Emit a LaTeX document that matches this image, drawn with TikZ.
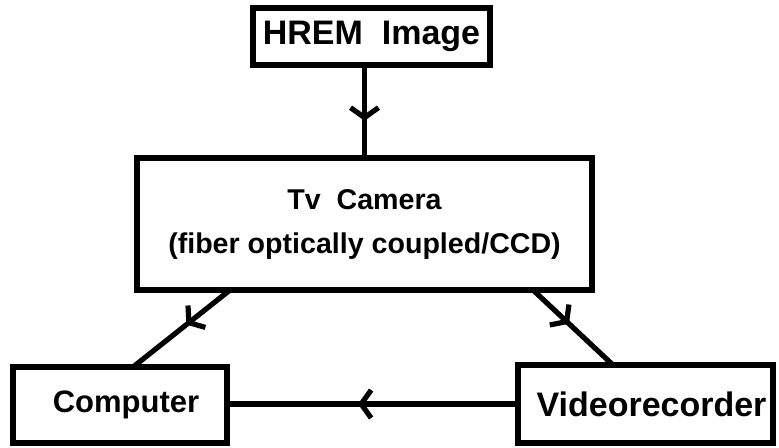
\documentclass[tikz,border=0pt]{standalone}
\usepackage{fontspec}
\setmainfont{Liberation Sans}
\usetikzlibrary{arrows.meta,decorations.markings,calc}

\tikzset{
  blockbox/.style={draw, line width=3.2pt, inner sep=0pt, outer sep=0pt, align=center, font=\bfseries},
  link/.style={line width=2.6pt},
  midarrow/.style={postaction={decorate}, decoration={markings,
    mark=at position #1 with {\arrow{Straight Barb[length=5pt,width=14pt,line width=2.6pt]}}}},
  midarrow/.default=0.5
}

\begin{document}
\begin{tikzpicture}[x=0.5pt,y=-0.5pt]
\useasboundingbox (0,0) rectangle (779,447);

%Boxes
\node[blockbox, minimum width=118.5pt, minimum height=28.5pt, font=\bfseries\fontsize{17}{20}\selectfont] (hrem) at (371.5,36.5) {HREM\ \ Image};
\node[blockbox, minimum width=227.5pt, minimum height=66pt, font=\bfseries\fontsize{14.3}{22}\selectfont] (cam) at (364.5,224) {Tv\ \ Camera\\ (fiber optically coupled/CCD)};
\node[blockbox, minimum width=107pt, minimum height=38pt, font=\bfseries\fontsize{15.5}{18}\selectfont] (comp) at (120,405) {\hspace*{6pt}Computer};
\node[blockbox, minimum width=127.5pt, minimum height=39pt, font=\bfseries\fontsize{17}{20}\selectfont] (video) at (645.5,404) {\hspace*{6pt}Videorecorder};

%Links
\draw[link, midarrow=0.6] (cam.north |- hrem.south) -- (cam.north);
\draw[link, midarrow=0.45] (cam.south west) ++(93,0) -- ($(comp.north)+(13,0)$);
\draw[link, midarrow=0.45] (cam.south east) ++(-59,0) -- ($(video.north west)+(95,0)$);
\draw[link, midarrow=0.55] (video.west) -- (comp.east |- video.west);

\end{tikzpicture}
\end{document}
